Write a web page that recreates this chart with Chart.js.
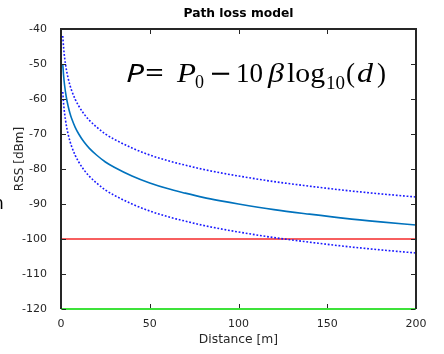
<!DOCTYPE html>
<html>
<head>
<meta charset="utf-8">
<script src="https://cdn.jsdelivr.net/npm/chart.js@4/dist/chart.umd.min.js"></script>
<style>
  html, body { margin: 0; padding: 0; background: #fff; }
  canvas { display: block; }
</style>
</head>
<body>
<canvas id="chart" width="444" height="354"></canvas>
<script>
// distances [m] and RSS values [dBm]
const distance = [1, 1.5, 2, 3, 4, 5, 6, 8, 10, 13, 16, 20, 25, 30, 40, 50, 60, 70, 80, 90, 100, 120, 140, 160, 180, 200]
const rssMean  = [-50, -53.5, -56, -59.5, -62, -64, -65.6, -68.1, -70, -72.3, -74.1, -76, -78, -79.5, -82, -84, -85.6, -86.9, -88.1, -89.1, -90, -91.6, -92.9, -94.1, -95.1, -96]
const rssUpper = [-42, -45.5, -48, -51.5, -54, -56, -57.6, -60.1, -62, -64.3, -66.1, -68, -70, -71.5, -74, -76, -77.6, -78.9, -80.1, -81.1, -82, -83.6, -84.9, -86.1, -87.1, -88]
const rssLower = [-58, -61.5, -64, -67.5, -70, -72, -73.6, -76.1, -78, -80.3, -82.1, -84, -86, -87.5, -90, -92, -93.6, -94.9, -96.1, -97.1, -98, -99.6, -100.9, -102.1, -103.1, -104]

// horizontal reference lines
const lineDist    = [0, 200]
const sensitivity = [-100, -100]
const noiseFloor  = [-120, -120]

const xTicks = [0, 50, 100, 150, 200]
const yTicks = [-120, -110, -100, -90, -80, -70, -60, -50, -40]

const axisColor = "#262626"
const toPoints = (xs, ys) => xs.map((x, i) => ({ x, y: ys[i] }))

// draw text squeezed/stretched so it spans [x0, x1]
function fitText(ctx, text, font, x0, x1, y) {
  ctx.font = font
  const w = ctx.measureText(text).width
  ctx.save()
  ctx.translate(x0, y)
  ctx.scale((x1 - x0) / w, 1)
  ctx.fillText(text, 0, 0)
  ctx.restore()
}

// axes box and inward tick marks, drawn as thin filled rects
function drawBox(chart) {
  const { ctx, chartArea: a, scales } = chart
  const L = Math.round(a.left), R = Math.round(a.right)
  const T = Math.round(a.top), B = Math.round(a.bottom)
  ctx.save()
  ctx.fillStyle = axisColor
  ctx.fillRect(L - 1, T - 1, 2, B - T + 1)   // left
  ctx.fillRect(R - 1, T - 1, 2, B - T + 1)   // right
  ctx.fillRect(L - 1, T - 1, R - L + 2, 2)   // top
  const tl = 4
  xTicks.forEach((v) => {
    const px = Math.round(scales.x.getPixelForValue(v))
    ctx.fillRect(px, B - 1 - tl, 1, tl)
    ctx.fillRect(px, T + 1, 1, tl)
  })
  yTicks.forEach((v) => {
    const py = Math.round(scales.y.getPixelForValue(v))
    ctx.fillRect(L + 1, py, tl, 1)
    ctx.fillRect(R - 1 - tl, py, tl, 1)
  })
  ctx.restore()
}

// box, inward ticks, title, axis labels and the formula (MATLAB look)
const decorations = {
  id: "decorations",
  afterDraw(chart) {
    drawBox(chart)
    const { ctx, chartArea: a } = chart
    const cx = (a.left + a.right) / 2
    ctx.save()
    ctx.fillStyle = "#000"
    ctx.textBaseline = "alphabetic"

    ctx.textAlign = "center"
    ctx.font = "bold 12.3px 'DejaVu Sans'"
    ctx.fillText("Path loss model", cx, 17)

    ctx.fillStyle = axisColor
    ctx.font = "12.3px 'DejaVu Sans'"
    ctx.fillText("Distance [m]", cx, 343)

    ctx.save()
    ctx.translate(23, 159)
    ctx.rotate(-Math.PI / 2)
    ctx.font = "12px 'DejaVu Sans'"
    ctx.fillText("RSS [dBm]", 0, 0)
    ctx.restore()

    // leftover glyph at the left border of the source picture
    ctx.textAlign = "left"
    ctx.fillStyle = "#000"
    ctx.font = "17px 'DejaVu Sans'"
    ctx.fillText("n", -7, 209)

    // formula
    const serif = "'Liberation Serif'"
    const parts = [
      ["P", "italic 26px 'Noto Sans'", 126, 144, 82],
      ["=", "26px 'Noto Sans'", 145, 164, 82],
      ["P", "italic 27px " + serif, 177, 196, 82],
      ["0", "18px " + serif, 195, 204, 88],
      ["\u2212", "27px 'DejaVu Serif'", 209, 232, 82],
      ["10", "27px " + serif, 236, 263, 82],
      ["\u03b2", "italic 27px " + serif, 268, 284, 82],
      ["log", "27px " + serif, 287, 325, 82],
      ["10", "18px " + serif, 326, 345, 89],
      ["(", "27px " + serif, 346, 355, 82],
      ["d", "italic 27px " + serif, 357, 373, 82],
      [")", "27px " + serif, 377, 386, 82]
    ]
    parts.forEach(([t, f, x0, x1, y]) => fitText(ctx, t, f, x0, x1, y))
    ctx.restore()
  }
}

new Chart(document.getElementById("chart"), {
  type: "line",
  data: {
    datasets: [
      {
        data: toPoints(distance, rssUpper),
        borderColor: "#1a1aff",
        borderWidth: 1.6,
        borderDash: [1.8, 1.8],
        cubicInterpolationMode: "monotone",
        pointRadius: 0
      },
      {
        data: toPoints(distance, rssMean),
        borderColor: "#0072BD",
        borderWidth: 1.6,
        cubicInterpolationMode: "monotone",
        pointRadius: 0
      },
      {
        data: toPoints(distance, rssLower),
        borderColor: "#1a1aff",
        borderWidth: 1.6,
        borderDash: [1.8, 1.8],
        cubicInterpolationMode: "monotone",
        pointRadius: 0
      },
      {
        data: toPoints(lineDist, sensitivity),
        borderColor: "#f52a2a",
        borderWidth: 1.6,
        pointRadius: 0
      },
      {
        data: toPoints(lineDist, noiseFloor),
        borderColor: "#3ee23a",
        borderWidth: 2,
        pointRadius: 0,
        clip: 4
      }
    ]
  },
  options: {
    responsive: false,
    animation: false,
    devicePixelRatio: 1,
    layout: { padding: { left: 0, right: 28, top: 29, bottom: 0 } },
    plugins: { legend: { display: false }, tooltip: { enabled: false }, title: { display: false } },
    scales: {
      x: {
        type: "linear",
        min: 0,
        max: 200,
        afterFit: (s) => { s.height = 45 },
        afterBuildTicks: (s) => { s.ticks = xTicks.map((v) => ({ value: v })) },
        grid: { display: false },
        border: { display: false },
        ticks: { color: axisColor, font: { family: "DejaVu Sans", size: 11 }, padding: 1, maxRotation: 0 }
      },
      y: {
        min: -120,
        max: -40,
        afterFit: (s) => { s.width = 61 },
        afterBuildTicks: (s) => { s.ticks = yTicks.map((v) => ({ value: v })) },
        grid: { display: false },
        border: { display: false },
        ticks: { color: axisColor, font: { family: "DejaVu Sans", size: 11 }, padding: 6 }
      }
    }
  },
  plugins: [decorations]
})
</script>
</body>
</html>
